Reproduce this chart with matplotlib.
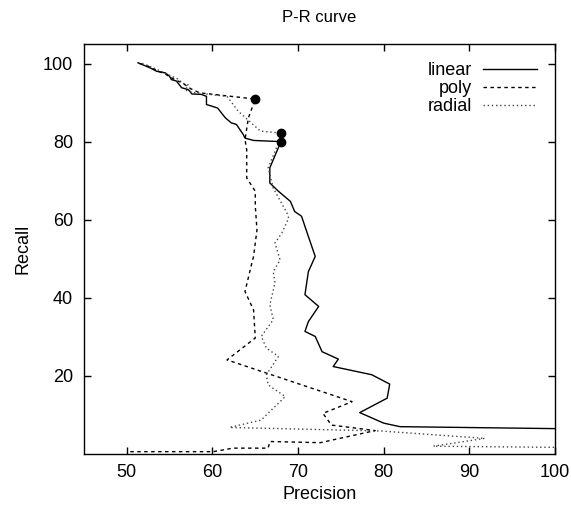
import matplotlib
matplotlib.use("Agg")
import matplotlib.pyplot as plt

plt.rcParams['font.family'] = ['Liberation Sans', 'DejaVu Sans']

# Data (precision, recall)
linear_p = [51.3, 52.7, 53.5, 54.5, 55.0, 55.2, 55.8, 56.4, 57.2, 57.6, 58.7, 59.3, 59.3, 59.9, 60.6,
            61.5, 62.2, 62.8, 63.2, 63.6, 63.8, 64.8, 68.0, 66.7, 66.7, 67.7, 69.1, 69.6, 70.4, 71.2,
            72.0, 71.2, 70.8, 72.4, 71.2, 70.8, 72.0, 72.8, 74.7, 74.1, 78.6, 80.7, 80.4, 77.2, 80.0,
            81.9, 100.0]
linear_r = [100.2, 98.9, 98.0, 97.6, 96.7, 95.9, 95.5, 93.8, 93.3, 92.2, 92.1, 91.6, 89.5, 89.1, 88.6,
            86.1, 84.8, 84.4, 83.1, 81.8, 80.9, 80.3, 80.0, 73.3, 69.4, 67.3, 64.7, 62.1, 60.9, 55.7,
            50.6, 46.7, 40.8, 37.8, 33.9, 31.4, 30.1, 26.2, 24.3, 22.4, 20.3, 17.9, 14.3, 10.6, 7.9,
            7.0, 6.5]

poly_p = [51.5, 52.5, 53.5, 54.5, 55.5, 56.5, 57.5, 58.5, 65.0, 64.2, 63.8, 64.0, 64.0, 65.0, 65.0,
          65.2, 64.8, 64.6, 63.8, 64.8, 65.0, 61.7, 76.3, 72.9, 73.9, 79.0, 72.6, 66.7, 66.5, 62.4,
          60.1, 50.4]
poly_r = [100.0, 99.3, 98.2, 97.3, 96.0, 95.0, 93.5, 92.5, 90.9, 86.1, 80.5, 77.9, 70.7, 67.3, 63.5,
          57.4, 50.6, 48.9, 41.6, 36.9, 29.7, 24.1, 13.4, 10.4, 7.4, 6.0, 2.9, 3.2, 1.5, 1.5,
          0.6, 0.6]

radial_p = [51.8, 52.3, 53.2, 54.2, 55.2, 56.0, 56.5, 57.2, 56.8, 58.0, 61.7, 63.0, 65.6, 67.9, 67.7,
            66.9, 66.5, 67.1, 68.7, 68.9, 68.1, 67.3, 67.9, 67.1, 67.3, 66.7, 67.1, 65.7, 66.3, 67.7,
            66.3, 66.5, 68.5, 66.9, 65.7, 62.0, 79.6, 91.8, 85.8, 100.0]
radial_r = [100.0, 99.6, 98.8, 97.8, 96.8, 96.0, 95.0, 94.5, 93.2, 92.5, 91.6, 87.8, 82.7, 82.2, 79.6,
            75.4, 73.3, 68.1, 61.7, 60.4, 56.6, 54.0, 49.7, 46.7, 43.8, 38.2, 34.4, 30.1, 27.1, 25.0,
            20.3, 17.7, 14.7, 11.3, 8.7, 6.8, 5.9, 4.0, 2.0, 1.7]

dots_p = [65.0, 68.0, 68.0]
dots_r = [90.9, 82.2, 80.0]

xticks = [50, 60, 70, 80, 90, 100]
yticks = [20, 40, 60, 80, 100]

fs = 13
fig = plt.figure(figsize=(5.71, 5.12), dpi=100)
ax = fig.add_axes([84/571, 58/512, 471/571, 410/512])

ax.plot(linear_p, linear_r, color='black', lw=1.0, label='linear')
ax.plot(poly_p, poly_r, color='black', lw=1.0, dashes=(2.5, 2.5), label='poly')
ax.plot(radial_p, radial_r, color='#444444', lw=1.0, dashes=(1, 2), label='radial')
ax.plot(dots_p, dots_r, 'o', color='black', ms=6, zorder=5)

ax.set_xlim(45, 100)
ax.set_ylim(0, 105)
ax.set_xticks(xticks)
ax.set_yticks(yticks)
ax.tick_params(direction='in', length=5, width=1, top=True, right=True, labelsize=fs)
ax.tick_params(axis='x', pad=7)
ax.tick_params(axis='y', pad=8)
for s in ax.spines.values():
    s.set_linewidth(1.0)

ax.set_xlabel('Precision', fontsize=fs, labelpad=4)
ax.set_ylabel('Recall', fontsize=fs, labelpad=8)
ax.set_title('P-R curve', fontsize=fs - 1, pad=16)

leg = ax.legend(loc='upper right', frameon=False, markerfirst=False, fontsize=fs,
                handlelength=3.0, labelspacing=0.05, borderaxespad=0.6, borderpad=0.4,
                handletextpad=0.6)
for t in leg.get_texts():
    t.set_ha('right')

fig.savefig('out.png', dpi=100)
